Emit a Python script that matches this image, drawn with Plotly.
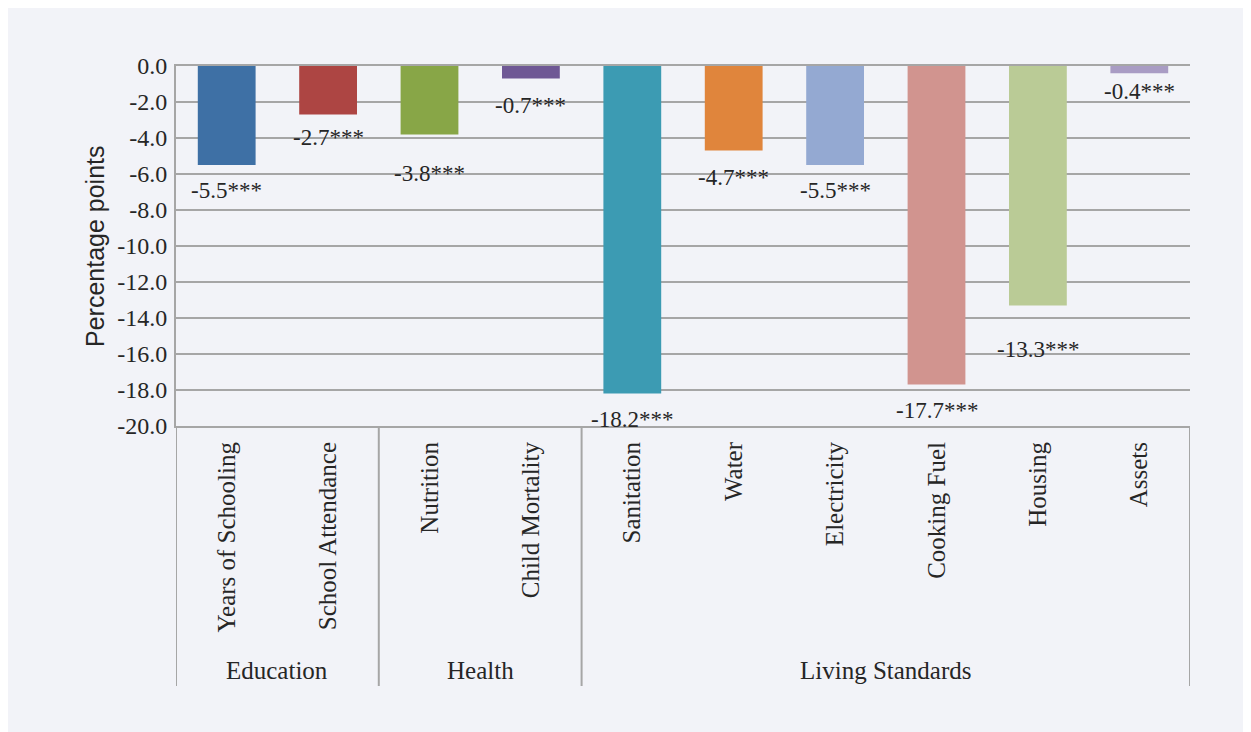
import plotly.graph_objects as go

categories = ["Years of Schooling", "School Attendance", "Nutrition", "Child Mortality",
              "Sanitation", "Water", "Electricity", "Cooking Fuel", "Housing", "Assets"]
values = [-5.5, -2.7, -3.8, -0.7, -18.2, -4.7, -5.5, -17.7, -13.3, -0.4]
significance = ["***"] * 10
colors = ["#3e70a5", "#ad4543", "#88a647", "#6f5895", "#3c9bb3",
          "#e0853c", "#94a9d2", "#d1948f", "#bacb96", "#a99cc4"]
groups = ["Education", "Health", "Living Standards"]
group_members = [["Years of Schooling", "School Attendance"],
                 ["Nutrition", "Child Mortality"],
                 ["Sanitation", "Water", "Electricity", "Cooking Fuel", "Housing", "Assets"]]
tick_vals = [0, -2, -4, -6, -8, -10, -12, -14, -16, -18, -20]
tick_text = ["0.0", "-2.0", "-4.0", "-6.0", "-8.0", "-10.0", "-12.0", "-14.0", "-16.0", "-18.0", "-20.0"]

# label placement (pixels below bar end), as laid out in the original
label_gap = [25, 23, 39, 27, 26, 27, 25, 26, 44, 18]

SERIF = "Liberation Serif"
TXT = "#262626"
GRID = "#a6a6a6"
BG = "#f2f3f8"

fig = go.Figure()
fig.add_trace(go.Bar(x=categories, y=values, marker=dict(color=colors, line=dict(width=0)),
                     width=0.57, hoverinfo="x+y"))

# page is offset by the body margin (8px); figure pixel = page pixel - 8
OFF = 8
W, H = 1251 - OFF, 732 - OFF
L, T = 176 - OFF, 66 - OFF
R = W - (1190 - OFF)
B = H - (426 - OFF)
pw, ph = W - L - R, H - T - B

def py(page_y):
    return ((426 - OFF) - (page_y - OFF)) / ph

def pxp(page_x):
    return ((page_x - OFF) - L) / pw

shapes = []
idx = 0
bounds = [-0.5]
for m in group_members:
    idx += len(m)
    bounds.append(idx - 0.5)
for b in bounds:
    shapes.append(dict(type="line", xref="x", yref="paper", x0=b, x1=b,
                       y0=0, y1=py(686), line=dict(color=GRID, width=2)))

annotations = []
for c, v, s, g in zip(categories, values, significance, label_gap):
    annotations.append(dict(x=c, y=v, xref="x", yref="y", text=f"{v:.1f}{s}",
                            showarrow=False, yanchor="middle", yshift=-g,
                            font=dict(family=SERIF, size=23, color=TXT)))
start = 0
for g, m in zip(groups, group_members):
    center = start + (len(m) - 1) / 2
    annotations.append(dict(x=center, y=py(670), xref="x", yref="paper", text=g,
                            showarrow=False, yanchor="middle",
                            font=dict(family=SERIF, size=25, color=TXT)))
    start += len(m)

annotations.append(dict(x=pxp(79), y=py(246), xref="paper", yref="paper",
                        text="Percentage points", textangle=-90, showarrow=False,
                        font=dict(family="Liberation Sans", size=25, color=TXT)))

fig.update_layout(
    width=W, height=H,
    margin=dict(l=L, r=R, t=T, b=B, autoexpand=False),
    paper_bgcolor=BG, plot_bgcolor=BG,
    showlegend=False,
    shapes=shapes, annotations=annotations,
    xaxis=dict(type="category", range=[-0.5, 9.5], tickangle=-90, showgrid=False,
               showline=True, mirror=True, linecolor=GRID, linewidth=2,
               ticks="", ticklabelstandoff=4,
               tickfont=dict(family=SERIF, size=25, color=TXT)),
    yaxis=dict(range=[-20, 0], tickvals=tick_vals, ticktext=tick_text,
               showgrid=True, gridcolor=GRID, gridwidth=2, zeroline=False,
               showline=True, linecolor=GRID, linewidth=2, ticks="",
               ticklabelstandoff=2,
               tickfont=dict(family=SERIF, size=24, color=TXT)),
)

fig.write_html("out.html")
